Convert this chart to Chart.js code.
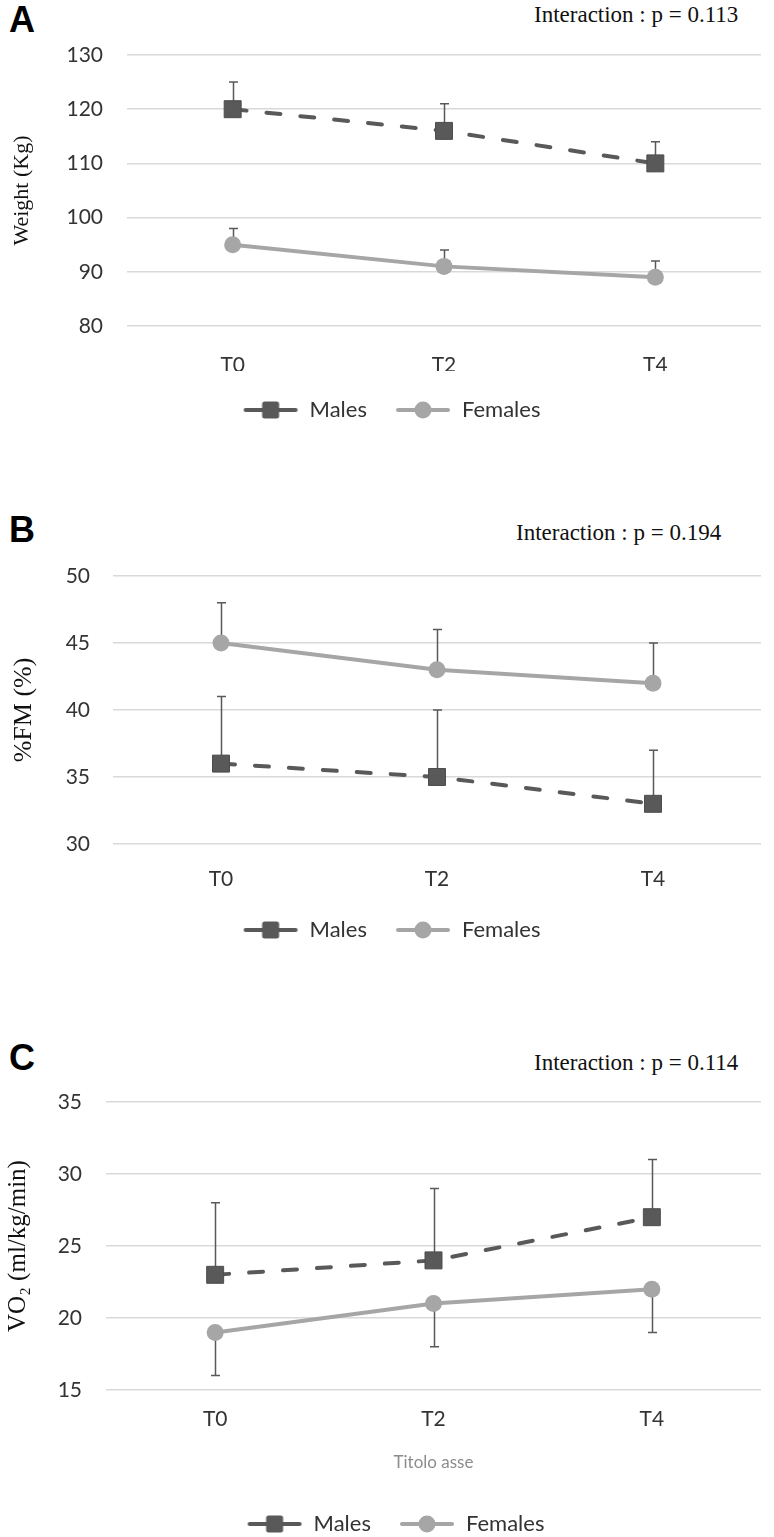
<!DOCTYPE html>
<html><head><meta charset="utf-8">
<script src="https://cdn.jsdelivr.net/npm/chart.js@4.4.1/dist/chart.umd.min.js"></script>
<style>
html,body{margin:0;padding:0;background:#fff;width:774px;height:1537px;overflow:hidden;position:relative}
canvas{position:absolute;left:0}
.lbl{position:absolute;font-family:"Liberation Sans",Arial,sans-serif;font-weight:bold;font-size:36px;line-height:1;color:#000}
.pval{position:absolute;font-family:"Liberation Serif","Times New Roman",serif;font-size:23px;line-height:1;color:#111;white-space:nowrap}
</style></head><body>
<div class="lbl" style="left:9px;top:2px">A</div>
<div class="lbl" style="left:9px;top:512px">B</div>
<div class="lbl" style="left:9px;top:1040px">C</div>
<div class="pval" id="pA" style="left:534px;top:3px"></div>
<div class="pval" id="pB" style="left:516px;top:521px"></div>
<div class="pval" id="pC" style="left:534px;top:1051px"></div>
<canvas id="cA" width="774" height="440" style="top:0px"></canvas>
<canvas id="cB" width="774" height="480" style="top:480px"></canvas>
<canvas id="cC" width="774" height="545" style="top:1000px"></canvas>
<script>
// ---- data ----
const timepoints = ['T0', 'T2', 'T4'];
const seriesNames = ['Males', 'Females'];
const interactionP = ['0.113', '0.194', '0.114'];

const weightMales = [120, 116, 110];
const weightMalesErr = [125, 121, 114];
const weightFemales = [95, 91, 89];
const weightFemalesErr = [98, 94, 92];
const weightAxis = [80, 130, 10];

const fmMales = [36, 35, 33];
const fmMalesErr = [41, 40, 37];
const fmFemales = [45, 43, 42];
const fmFemalesErr = [48, 46, 45];
const fmAxis = [30, 50, 5];

const vo2Males = [23, 24, 27];
const vo2MalesErr = [28, 29, 31];
const vo2Females = [19, 21, 22];
const vo2FemalesErr = [16, 18, 19];
const vo2Axis = [15, 35, 5];

// ---- styles ----
const MALE = '#595959';
const FEMALE = '#a6a6a6';
const TEXT = '#333333';
Chart.defaults.font.family = 'Lato, "Open Sans", sans-serif';
Chart.defaults.color = TEXT;

document.getElementById('pA').textContent = 'Interaction : p = ' + interactionP[0];
document.getElementById('pB').textContent = 'Interaction : p = ' + interactionP[1];
document.getElementById('pC').textContent = 'Interaction : p = ' + interactionP[2];

function legendIcon(kind) {
  const c = document.createElement('canvas');
  c.width = 56; c.height = 22;
  const g = c.getContext('2d');
  g.lineCap = 'round';
  g.lineWidth = 4;
  if (kind === 0) {
    g.strokeStyle = MALE; g.fillStyle = MALE;
    g.beginPath(); g.moveTo(3, 11); g.lineTo(53, 11); g.stroke();
    g.beginPath();
    if (g.roundRect) g.roundRect(19.5, 2.5, 17, 17, 2.5); else g.rect(19.5, 2.5, 17, 17);
    g.fill();
  } else {
    g.strokeStyle = FEMALE; g.fillStyle = FEMALE;
    g.beginPath(); g.moveTo(3, 11); g.lineTo(53, 11); g.stroke();
    g.beginPath(); g.arc(28, 11, 8.5, 0, Math.PI * 2); g.fill();
  }
  return c;
}
const icons = [legendIcon(0), legendIcon(1)];

const errorBars = {
  id: 'errorBars',
  beforeDatasetsDraw(chart) {
    const ctx = chart.ctx, xs = chart.scales.x, ys = chart.scales.y;
    ctx.save();
    ctx.strokeStyle = '#595959';
    ctx.lineWidth = 1.5;
    chart.data.datasets.forEach(ds => {
      const ends = ds.errorEnds;
      if (!ends) return;
      ds.data.forEach((v, j) => {
        const px = Math.round(xs.getPixelForValue(j)) + 0.5;
        const p0 = ys.getPixelForValue(v);
        const p1 = ys.getPixelForValue(ends[j]);
        ctx.beginPath();
        ctx.moveTo(px, p0); ctx.lineTo(px, p1);
        ctx.moveTo(px - 4.5, p1); ctx.lineTo(px + 4.5, p1);
        ctx.stroke();
      });
    });
    ctx.restore();
  }
};

function makeChart(id, p) {
  return new Chart(document.getElementById(id), {
    type: 'line',
    data: {
      labels: timepoints,
      datasets: [
        { label: seriesNames[0], data: p.males, errorEnds: p.malesErr,
          borderColor: MALE, backgroundColor: MALE, borderWidth: 4,
          borderDash: [14, 20], borderCapStyle: 'round', tension: 0,
          pointStyle: 'rect', pointRadius: 12, pointBackgroundColor: MALE,
          pointBorderColor: '#4d4d4d', pointBorderWidth: 1 },
        { label: seriesNames[1], data: p.females, errorEnds: p.femalesErr,
          borderColor: FEMALE, backgroundColor: FEMALE, borderWidth: 4, tension: 0,
          pointStyle: 'circle', pointRadius: 8.5, pointBackgroundColor: FEMALE,
          pointBorderColor: FEMALE, pointBorderWidth: 0 }
      ]
    },
    options: {
      responsive: false, animation: false, events: [],
      layout: { padding: p.pad },
      plugins: {
        tooltip: { enabled: false },
        legend: {
          position: 'bottom',
          labels: {
            usePointStyle: true, pointStyleWidth: 56, padding: 28,
            font: { size: 22 }, color: TEXT,
            generateLabels(chart) {
              const items = Chart.defaults.plugins.legend.labels.generateLabels(chart);
              items.forEach((it, i) => { it.pointStyle = icons[i]; });
              return items;
            }
          }
        }
      },
      scales: {
        x: {
          offset: true,
          grid: { display: false, drawTicks: false },
          border: { display: false },
          ticks: { padding: p.xPad, font: { size: 21 }, color: TEXT },
          title: p.xTitle ? { display: true, text: p.xTitle, color: '#8c8c8c',
                   font: { size: 17 }, padding: { top: 0, bottom: p.xTitlePad } } : { display: false },
          afterFit: s => { s.height = p.xH; }
        },
        y: {
          min: p.axis[0], max: p.axis[1],
          ticks: { stepSize: p.axis[2], padding: p.yPad, font: { size: 21 }, color: TEXT },
          grid: { color: '#d9d9d9', lineWidth: 1.5, drawTicks: false },
          border: { display: false },
          title: { display: true, text: p.yTitle, color: '#111',
                   font: { family: '"Liberation Serif", "Times New Roman", serif', size: p.yTitleSize },
                   padding: { top: p.yTitlePad, bottom: 0 } },
          afterFit: s => { s.width = p.yW; }
        }
      }
    },
    plugins: [errorBars]
  });
}

makeChart('cA', {
  males: weightMales, malesErr: weightMalesErr, females: weightFemales, femalesErr: weightFemalesErr,
  axis: weightAxis, yTitle: 'Weight (Kg)', yTitleSize: 22,
  pad: { left: 20, right: 11, top: 55, bottom: 9 },
  yW: 107, yPad: 24, yTitlePad: -11.2, xPad: 27, xH: 45
});
makeChart('cB', {
  males: fmMales, malesErr: fmMalesErr, females: fmFemales, femalesErr: fmFemalesErr,
  axis: fmAxis, yTitle: '%FM (%)', yTitleSize: 26,
  pad: { left: 20, right: 11, top: 96, bottom: 9 },
  yW: 93, yPad: 23, yTitlePad: -11.6, xPad: 23, xH: 47
});
makeChart('cC', {
  males: vo2Males, malesErr: vo2MalesErr, females: vo2Females, femalesErr: vo2FemalesErr,
  axis: vo2Axis, yTitle: 'VO\u2082 (ml/kg/min)', yTitleSize: 25, xTitle: 'Titolo asse', xTitlePad: 12,
  pad: { left: 20, right: 3, top: 102, bottom: 0 },
  yW: 86, yPad: 24, yTitlePad: -17, xPad: 17, xH: 95
});
</script>
</body></html>
